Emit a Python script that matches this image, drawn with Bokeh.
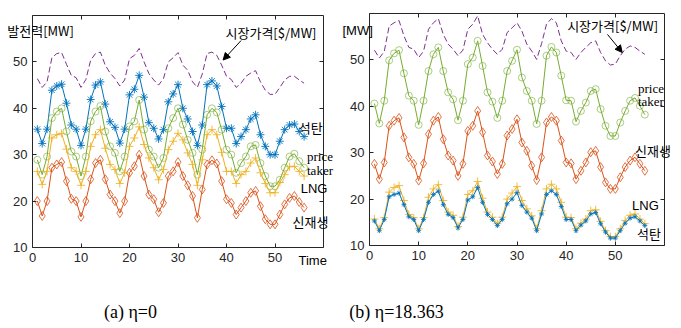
from bokeh.plotting import figure
from bokeh.layouts import row
from bokeh.models import Label, Arrow, NormalHead, LinearAxis, FixedTicker, Range1d
from bokeh.embed import file_html
from bokeh.resources import INLINE

# ---------------- data ----------------
t = list(range(1, 57))

# (a) eta = 0
price_a = [46.4, 44.5, 45.7, 50.9, 51.8, 52.0, 49.5, 47.1, 46.6, 44.5, 46.2, 50.4, 51.8, 52.1,
           49.3, 47.6, 46.4, 44.8, 46.1, 50.7, 51.4, 52.9, 50.0, 47.5, 46.1, 45.0, 46.4, 50.0,
           50.9, 52.0, 49.3, 48.2, 45.7, 44.5, 47.4, 51.8, 52.1, 51.4, 49.3, 46.9, 46.2, 44.5,
           45.4, 46.9, 47.6, 48.1, 45.7, 43.9, 43.0, 43.0, 44.5, 46.1, 46.9, 46.9, 46.1, 45.4]
coal_a = [35.5, 32.4, 35.5, 43.9, 44.8, 45.2, 41.1, 36.4, 35.5, 32.0, 35.5, 41.9, 45.0, 45.7,
          40.9, 37.1, 35.9, 32.5, 35.5, 42.9, 44.1, 47.1, 42.4, 36.9, 35.7, 33.4, 35.4, 41.4,
          43.1, 45.1, 40.0, 37.7, 35.0, 32.0, 36.4, 45.1, 45.9, 44.8, 40.4, 35.7, 35.7, 32.4,
          33.9, 35.4, 37.7, 38.6, 34.3, 31.8, 30.0, 30.0, 32.9, 35.4, 36.4, 36.6, 35.0, 33.9]
taker_a = [28.9, 25.7, 29.6, 37.9, 39.3, 40.0, 35.0, 30.7, 29.6, 25.4, 29.6, 37.2, 39.3, 40.5,
           35.0, 31.8, 30.4, 26.4, 29.6, 36.1, 37.2, 41.8, 35.4, 31.1, 29.6, 27.2, 29.3, 35.7,
           37.9, 40.0, 36.5, 33.2, 30.4, 25.7, 31.1, 38.6, 40.0, 39.1, 35.4, 31.1, 30.0, 26.1,
           28.2, 29.6, 31.8, 32.1, 28.2, 25.4, 23.2, 23.2, 24.6, 27.2, 29.6, 30.2, 28.6, 27.2]
lng_a = [26.4, 23.6, 26.4, 33.6, 34.3, 34.6, 31.2, 27.2, 26.4, 23.4, 26.4, 31.8, 34.3, 35.4,
         31.4, 27.9, 26.8, 23.8, 26.1, 31.8, 33.6, 36.0, 32.2, 29.3, 27.2, 24.6, 26.8, 31.1,
         32.9, 34.6, 33.2, 30.4, 27.9, 23.4, 28.9, 34.3, 35.4, 34.3, 30.5, 26.4, 26.4, 23.8,
         25.7, 26.4, 28.2, 29.3, 26.1, 23.8, 21.8, 21.8, 24.0, 25.7, 27.4, 27.5, 26.4, 25.4]
renew_a = [20.0, 16.8, 20.0, 27.2, 27.9, 28.4, 24.3, 20.5, 20.0, 16.6, 20.0, 24.7, 28.2, 28.9,
           24.7, 21.4, 20.0, 17.4, 20.0, 26.1, 27.5, 30.0, 25.4, 21.4, 20.4, 17.6, 19.6, 25.4,
           26.4, 28.4, 25.4, 23.4, 21.1, 16.4, 22.5, 27.9, 28.8, 28.1, 24.3, 20.4, 19.6, 17.1,
           18.6, 20.0, 21.8, 22.2, 18.9, 16.1, 15.0, 15.0, 17.1, 19.3, 20.7, 21.1, 19.8, 18.6]

# (b) eta = 18.363
price_b = [52.1, 50.4, 51.8, 57.3, 58.0, 58.5, 55.2, 52.7, 52.3, 50.5, 51.9, 56.6, 58.0, 58.9,
           55.5, 53.4, 52.3, 50.9, 52.1, 56.6, 57.7, 59.5, 55.5, 53.7, 52.3, 51.2, 52.3, 55.9,
           56.9, 58.0, 56.2, 53.4, 51.9, 50.1, 53.5, 57.7, 58.9, 58.0, 54.1, 51.9, 51.6, 50.1,
           51.6, 52.7, 53.7, 54.1, 51.6, 49.8, 48.9, 49.1, 50.9, 52.3, 53.0, 52.7, 51.9, 51.2]
taker_b = [40.6, 36.3, 41.2, 49.9, 51.4, 52.1, 47.1, 42.3, 41.2, 36.0, 41.2, 47.6, 51.2, 52.7,
           47.6, 43.0, 41.5, 37.0, 41.2, 49.1, 50.5, 54.1, 48.7, 43.0, 41.0, 37.5, 41.2, 47.6,
           49.8, 52.2, 46.2, 43.3, 41.2, 36.2, 41.2, 50.9, 52.8, 51.6, 46.6, 41.3, 41.2, 36.7,
           39.0, 40.8, 43.3, 43.7, 39.4, 35.8, 33.6, 33.6, 36.5, 39.0, 41.2, 41.8, 40.1, 38.2]
renew_b = [27.6, 24.3, 27.9, 35.8, 36.9, 37.5, 33.3, 29.0, 27.6, 24.0, 27.7, 34.0, 36.9, 37.7,
           32.9, 29.4, 28.3, 25.0, 27.6, 34.7, 35.8, 39.0, 34.4, 29.4, 28.1, 25.4, 27.6, 33.7,
           35.1, 37.2, 32.2, 30.4, 27.2, 24.1, 29.0, 36.5, 37.7, 36.9, 32.6, 27.9, 27.7, 24.3,
           26.1, 27.9, 30.1, 30.4, 26.9, 23.6, 22.2, 22.2, 24.7, 26.9, 28.3, 29.0, 27.6, 26.1]
lng_b = [15.7, 13.6, 16.0, 21.5, 22.5, 22.9, 19.7, 16.7, 16.0, 13.6, 16.0, 20.4, 22.2, 23.1,
         19.7, 17.2, 16.5, 14.1, 16.1, 21.0, 21.8, 23.8, 20.2, 17.2, 16.1, 14.7, 16.1, 20.0,
         21.3, 22.7, 19.7, 17.9, 16.4, 13.6, 17.5, 22.2, 23.2, 22.2, 19.3, 16.1, 16.0, 13.6,
         14.8, 15.7, 17.5, 17.7, 15.2, 13.2, 11.9, 11.9, 13.6, 15.4, 16.5, 16.8, 15.7, 14.7]
coal_b = [15.3, 13.2, 15.6, 20.5, 21.0, 21.3, 18.8, 16.2, 15.6, 13.2, 15.6, 19.3, 21.0, 21.7,
          18.8, 16.7, 16.0, 13.8, 15.6, 19.8, 20.5, 22.5, 19.3, 16.7, 15.6, 14.3, 15.6, 19.0,
          20.0, 21.4, 18.6, 17.2, 15.9, 13.2, 16.8, 21.0, 21.8, 21.0, 18.4, 15.6, 15.6, 13.2,
          14.4, 15.3, 16.8, 17.1, 14.7, 12.9, 11.6, 11.6, 13.2, 14.8, 15.9, 16.2, 15.3, 14.3]

x_ticks = [0, 10, 20, 30, 40, 50]
y_ticks = [10, 20, 30, 40, 50]
X0, X1, Y0, Y1 = 0, 60, 10, 60   # drawn axes box

BLUE = "#0072BD"
RED = "#D95319"
YEL = "#EDB120"
PUR = "#7E2F8E"
GRN = "#77AC30"
AX = "#262626"

SANS = "Liberation Sans"
KR = "Noto Sans CJK KR"
SERIF = "Liberation Serif"


def make_fig(width, box_left, box_w, box_top, box_h):
    """Frame covers the whole canvas; the visible axes box is drawn by fixed-location axes."""
    sx = box_w / (X1 - X0)
    sy = box_h / (Y1 - Y0)
    xr = Range1d(X0 - box_left / sx, X1 + (width - box_left - box_w) / sx)
    yr = Range1d(Y0 - (328 - box_top - box_h) / sy, Y1 + box_top / sy)
    p = figure(width=width, height=328, x_range=xr, y_range=yr, min_border=0,
               title=None, x_axis_location=None, y_axis_location=None,
               output_backend="svg", toolbar_location=None)
    p.grid.visible = False
    p.outline_line_color = None
    p.background_fill_color = "white"
    p.border_fill_color = "white"

    def axis(side, ticks, loc, bounds, labels):
        ax = LinearAxis(ticker=FixedTicker(ticks=ticks), fixed_location=loc, bounds=bounds,
                        major_tick_in=4, major_tick_out=0, minor_tick_line_color=None,
                        axis_line_color=AX, major_tick_line_color=AX,
                        major_label_text_font=SANS,
                        major_label_text_color=AX if labels else None,
                        major_label_text_font_size="13px",
                        major_label_standoff=5)
        p.add_layout(ax, side)

    axis("below", x_ticks, Y0, (X0, X1), True)
    axis("left", y_ticks, X0, (Y0, Y1), True)
    axis("above", x_ticks, Y1, (X0, X1), False)
    axis("right", y_ticks, X1, (Y0, Y1), False)
    return p


def lbl(p, x, y, text, font=KR, size="13px", align="left", baseline="middle", color="black"):
    p.add_layout(Label(x=x, y=y, text=text, text_font=font, text_font_size=size,
                       text_align=align, text_baseline=baseline, text_color=color))


def series(p, y, color, marker, size, dash="solid", mk_alpha=0.75):
    p.line(t, y, line_color=color, line_width=1, line_dash=dash)
    if marker:
        p.scatter(t, y, marker=marker, size=size, line_color=color, fill_color=None,
                  line_alpha=mk_alpha, line_width=1)


# ---------------- panel (a) ----------------
pa = make_fig(340, 32, 291, 15, 232)
series(pa, price_a, PUR, None, 0, dash="6 3")
series(pa, coal_a, BLUE, "asterisk", 8, mk_alpha=0.9)
series(pa, taker_a, GRN, "circle", 7, mk_alpha=0.6)
series(pa, lng_a, YEL, "cross", 8, mk_alpha=0.85)
series(pa, renew_a, RED, "diamond", 9, mk_alpha=0.8)

lbl(pa, -5.2, 56.8, "발전력[MW]")
lbl(pa, 39.8, 56.4, "시장가격[$/MW]")
pa.add_layout(Arrow(end=NormalHead(size=7, fill_color="black", line_color="black"),
                    x_start=43.0, y_start=54.6, x_end=39.3, y_end=50.4,
                    line_color="black", line_width=1))
lbl(pa, 54.9, 35.9, "석탄")
lbl(pa, 56.6, 29.7, "price", font=SERIF)
lbl(pa, 56.6, 26.5, "taker", font=SERIF)
lbl(pa, 55.3, 22.8, "LNG", font=SANS)
lbl(pa, 53.6, 15.7, "신재생")
lbl(pa, 54.85, 7.2, "Time", font=SANS)
lbl(pa, 20.2, -3.9, "(a) η=0", font=SERIF, size="18px", align="center")

# ---------------- panel (b) ----------------
pb = make_fig(341, 29, 295, 13, 232)
series(pb, price_b, PUR, None, 0, dash="6 3")
series(pb, taker_b, GRN, "circle", 7, mk_alpha=0.6)
series(pb, renew_b, RED, "diamond", 9, mk_alpha=0.8)
series(pb, lng_b, YEL, "cross", 8, mk_alpha=0.85)
series(pb, coal_b, BLUE, "asterisk", 5, mk_alpha=0.8)

lbl(pb, -5.5, 56.3, "[MW]", font=SANS)
lbl(pb, 40.2, 57.5, "시장가격[$/MW]")
pb.add_layout(Arrow(end=NormalHead(size=7, fill_color="black", line_color="black"),
                    x_start=48.4, y_start=55.5, x_end=51.4, y_end=51.6,
                    line_color="black", line_width=1))
lbl(pb, 54.6, 43.9, "price", font=SERIF)
lbl(pb, 54.6, 41.0, "taker", font=SERIF)
lbl(pb, 54.0, 30.4, "신재생")
lbl(pb, 53.4, 18.6, "LNG", font=SANS)
lbl(pb, 54.4, 12.6, "석탄")
lbl(pb, 5.5, -4.4, "(b) η=18.363", font=SERIF, size="18px", align="center")

layout = row(pa, pb)
open("out.html", "w").write(file_html(layout, INLINE))
